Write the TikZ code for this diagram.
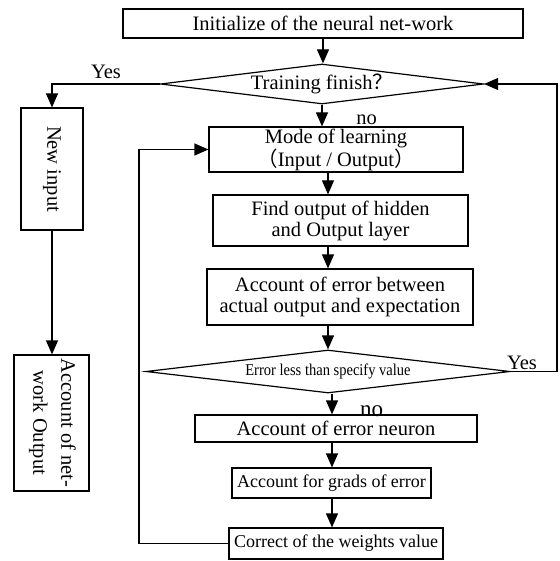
\documentclass[tikz,border=0pt]{standalone}
\usepackage{fontspec}
\usepackage{graphicx}
\setmainfont{Liberation Serif}
\newfontfamily\cjk{Noto Sans CJK SC}
\newfontfamily\narrow[FakeStretch=0.88]{Liberation Serif}
\usetikzlibrary{shapes.geometric,arrows.meta}

\begin{document}
\begin{tikzpicture}[x=1pt, y=-1pt, line width=1.2pt,
        font=\fontsize{20.5}{21}\selectfont,
        box/.style={draw, inner sep=0pt, align=center},
        test/.style={draw, diamond, aspect=8, inner sep=0pt},
        arr/.style={-{Triangle[length=14pt,width=12pt]}},
        lbl/.style={inner sep=0pt}]
    \useasboundingbox (0,0) rectangle (559,561);

    % main column
    \node[box, minimum width=400pt, minimum height=29pt] (init) at (323,23.5) {Initialize of the neural net-work};
    \node[test, minimum width=323pt, minimum height=40pt] (train) at (322,84) {Training finish{\cjk ？}};
    \node[box, minimum width=254pt, minimum height=45pt] (mode) at (336,149.5) {Mode of learning\\{\cjk （}Input / Output{\cjk ）}};
    \node[box, minimum width=255pt, minimum height=51pt] (find) at (340.5,220.5) {Find output of hidden\\and Output layer};
    \node[box, minimum width=266pt, minimum height=56pt] (err) at (340,297) {Account of error between\\actual output and expectation};
    \node[test, minimum width=364pt, minimum height=43pt, font=\narrow\fontsize{16.5}{18}\selectfont] (cmp) at (328,371.5) {Error less than specify value};
    \node[box, minimum width=282pt, minimum height=27pt] (neuron) at (336,428.5) {Account of error neuron};
    \node[box, minimum width=199pt, minimum height=30pt, font=\fontsize{18}{20}\selectfont] (grads) at (331.5,483) {Account for grads of error};
    \node[box, minimum width=214pt, minimum height=31pt, font=\fontsize{18}{20}\selectfont] (weights) at (336,543.5) {Correct of the weights value};

    % side column
    \node[box, minimum width=62pt, minimum height=122pt] (newin) at (52,169) {\rotatebox{-90}{New input}};
    \node[box, minimum width=75pt, minimum height=136pt] (netout) at (51.5,423) {\rotatebox{-90}{\begin{tabular}{@{}c@{}}Account of net-\\[7pt]work Output\end{tabular}}};

    \coordinate (colA) at (328,0);
    \coordinate (colB) at (332,0);
    \coordinate (rside) at (557,0);
    \coordinate (lside) at (139,0);

    \draw[arr] (init.south) -- (init.south |- train.north);
    \draw[arr] (train.south) -- (train.south |- mode.north);
    \draw[arr] (mode.south -| colA) -- (find.north -| colA);
    \draw[arr] (find.south -| colA) -- (err.north -| colA);
    \draw[arr] (err.south -| colA) -- (cmp.north);
    \draw[arr] (cmp.south -| colB) -- (neuron.north -| colB);
    \draw[arr] (neuron.south -| colB) -- (grads.north -| colB);
    \draw[arr] (grads.south -| colB) -- (weights.north -| colB);

    % branches and loops
    \draw[arr] (train.west) -| (newin.north);
    \draw[arr] (newin.south) -- (newin.south |- netout.north);
    \draw[arr] (cmp.east) -- (cmp.east -| rside) |- (train.east);
    \draw[arr] (weights.west) -| (lside |- mode.west) -- (mode.west);

    \node[lbl] (yes1) at (106,71.5) {Yes};
    \node[lbl] (no1) at (366.5,120) {no};
    \node[lbl] (yes2) at (522,363) {Yes};
    \node[lbl, font=\fontsize{23}{24}\selectfont] (no2) at (371.5,411) {no};
\end{tikzpicture}
\end{document}
